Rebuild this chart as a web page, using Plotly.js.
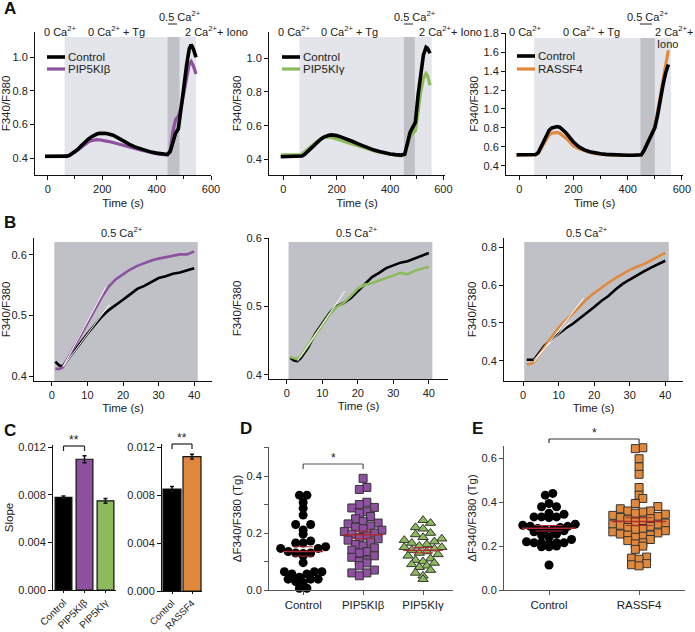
<!DOCTYPE html>
<html>
<head>
<meta charset="utf-8">
<script src="https://cdn.plot.ly/plotly-3.0.1.min.js"></script>
<style>html,body{margin:0;padding:0;background:#fff}#chart{width:695px;height:632px}</style>
</head>
<body>
<div id="chart"></div>
<script>
const W = 695, H = 632;
const FONT = '"Liberation Sans", Arial, sans-serif';

// ---- A: F340/F380 traces ----
const tA1 = [-10,0,20,40,60,70,80,90,100,110,120,130,140,150,160,170,180,190,200,210,220,240,260,280,300,320,340,360,380,400,420,440,450,460,470,480,490,500,510,520,527,535,545];
const ctrlA1 = [0.412,0.412,0.412,0.412,0.412,0.413,0.418,0.428,0.44,0.453,0.47,0.487,0.502,0.515,0.527,0.537,0.544,0.548,0.55,0.549,0.546,0.537,0.52,0.5,0.483,0.468,0.456,0.446,0.437,0.431,0.426,0.423,0.44,0.5,0.55,0.575,0.68,0.82,0.95,1.05,1.075,1.05,1.0];
const pipbA1 = [0.41,0.41,0.41,0.41,0.41,0.412,0.418,0.426,0.436,0.448,0.462,0.476,0.488,0.498,0.505,0.509,0.511,0.51,0.508,0.505,0.501,0.494,0.486,0.477,0.467,0.458,0.449,0.441,0.434,0.428,0.423,0.42,0.45,0.56,0.63,0.65,0.7,0.78,0.88,0.96,0.975,0.95,0.9];

const tA2 = [-10,0,20,40,60,70,80,90,100,110,120,130,140,150,160,170,180,190,200,210,220,240,260,280,300,320,340,360,380,400,420,440,455,465,475,485,495,505,515,525,535,540,550];
const ctrlA2 = [0.415,0.415,0.415,0.415,0.415,0.42,0.43,0.445,0.462,0.478,0.494,0.508,0.52,0.53,0.538,0.543,0.545,0.544,0.541,0.536,0.531,0.52,0.506,0.492,0.478,0.466,0.455,0.446,0.438,0.432,0.428,0.425,0.43,0.5,0.56,0.59,0.62,0.78,0.92,1.02,1.065,1.06,1.03];
const pipgA2 = [0.426,0.426,0.426,0.426,0.426,0.432,0.444,0.458,0.472,0.486,0.499,0.51,0.52,0.528,0.533,0.533,0.53,0.526,0.521,0.516,0.51,0.499,0.488,0.477,0.467,0.458,0.45,0.443,0.436,0.43,0.425,0.421,0.425,0.48,0.53,0.555,0.57,0.68,0.8,0.88,0.91,0.9,0.84];

const tA3 = [-10,0,20,40,55,60,70,80,90,100,110,120,130,140,150,160,170,180,190,200,220,240,260,280,300,320,340,360,380,400,420,440,450,460,470,480,490,500,510,520,530,540,550];
const ctrlA3 = [0.516,0.516,0.515,0.514,0.514,0.518,0.54,0.6,0.67,0.73,0.775,0.8,0.812,0.814,0.805,0.785,0.755,0.72,0.685,0.65,0.6,0.568,0.548,0.535,0.526,0.52,0.516,0.514,0.512,0.511,0.51,0.51,0.515,0.56,0.62,0.68,0.74,0.8,0.93,1.1,1.25,1.38,1.47];
const rassfA3 = [0.512,0.512,0.512,0.511,0.511,0.514,0.532,0.58,0.64,0.69,0.725,0.745,0.752,0.752,0.742,0.722,0.697,0.67,0.645,0.61,0.58,0.556,0.54,0.528,0.52,0.514,0.511,0.509,0.508,0.507,0.506,0.506,0.512,0.56,0.63,0.69,0.75,0.81,0.95,1.13,1.3,1.48,1.62];

// ---- B: 0.5 Ca2+ re-addition ----
const tB = [1,2,3,4,6,8,10,12,14,16,18,20,22,24,26,28,30,32,34,36,38,40];
const ctrlB1 = [0.424,0.418,0.416,0.424,0.44,0.455,0.47,0.484,0.498,0.509,0.517,0.526,0.535,0.544,0.549,0.556,0.562,0.565,0.569,0.571,0.574,0.578];
const pipbB1 = [0.412,0.412,0.414,0.424,0.445,0.466,0.487,0.508,0.53,0.548,0.56,0.568,0.576,0.582,0.587,0.591,0.594,0.596,0.598,0.601,0.601,0.606];
const ctrlB2 = [0.425,0.421,0.42,0.425,0.44,0.46,0.475,0.49,0.5,0.505,0.512,0.522,0.532,0.543,0.549,0.556,0.56,0.564,0.566,0.57,0.574,0.578];
const pipgB2 = [0.426,0.424,0.423,0.428,0.444,0.458,0.473,0.488,0.499,0.505,0.515,0.526,0.532,0.534,0.538,0.541,0.545,0.549,0.547,0.552,0.555,0.558];
const ctrlB3 = [0.403,0.403,0.403,0.415,0.44,0.457,0.472,0.486,0.498,0.512,0.526,0.542,0.558,0.571,0.588,0.603,0.614,0.626,0.636,0.646,0.654,0.664];
const rassfB3 = [0.391,0.392,0.396,0.41,0.437,0.463,0.488,0.508,0.525,0.545,0.564,0.579,0.593,0.606,0.618,0.63,0.64,0.648,0.655,0.665,0.675,0.685];
// linear fits (start/end)
const fitB1CtrlT = [3.2, 16.2], fitB1CtrlV = [0.416, 0.518];
const fitB1PipbT = [3.2, 15.3], fitB1PipbV = [0.416, 0.548];
const fitB2CtrlT = [3, 16.3], fitB2CtrlV = [0.42, 0.522];
const fitB3CtrlT = [3, 13.2], fitB3CtrlV = [0.403, 0.503];
const fitB3RassfT = [3, 17], fitB3RassfV = [0.396, 0.565];
const b3TickVals = [0.4, 0.5, 0.6, 0.7];
const b3TickText = ['0.4', '0.5', '0.6', '0.8'];

// ---- C: slopes ----
const cLabels1 = ['Control', 'PIP5KI\u03b2', 'PIP5KI\u03b3'];
const slope1 = [0.0078, 0.0110, 0.0075];
const slopeErr1 = [0.0001, 0.0003, 0.0002];
const cLabels2 = ['Control', 'RASSF4'];
const slope2 = [0.0085, 0.0112];
const slopeErr2 = [0.0002, 0.0002];

// ---- D, E: delta F340/F380 (Tg) ----
const dLabels = ['Control', 'PIP5KI\u03b2', 'PIP5KI\u03b3'];
const dCtrl = [0.333,0.333,0.307,0.287,0.263,0.23,0.23,0.211,0.196,0.172,0.165,0.165,0.152,0.146,0.146,0.135,0.13,0.13,0.128,0.12,0.096,0.064,0.064,0.064,0.056,0.056,0.045,0.038,0.038,0.038,0.03,0.026,0.006,0.006];
const dPipb = [0.392,0.36,0.353,0.308,0.3,0.29,0.288,0.275,0.27,0.258,0.25,0.24,0.235,0.232,0.225,0.22,0.215,0.21,0.205,0.2,0.196,0.19,0.185,0.18,0.175,0.168,0.16,0.155,0.148,0.14,0.135,0.13,0.12,0.115,0.105,0.1,0.095,0.085,0.07,0.06,0.06,0.05];
const dPipg = [0.245,0.235,0.22,0.215,0.2,0.195,0.185,0.18,0.175,0.17,0.165,0.16,0.155,0.15,0.15,0.145,0.14,0.135,0.13,0.125,0.12,0.11,0.105,0.1,0.095,0.09,0.085,0.08,0.07,0.06,0.05,0.038];
const eLabels = ['Control', 'RASSF4'];
const eCtrl = [0.44,0.432,0.394,0.379,0.379,0.35,0.345,0.333,0.333,0.333,0.33,0.3,0.295,0.29,0.29,0.285,0.28,0.275,0.275,0.27,0.265,0.255,0.25,0.24,0.23,0.22,0.215,0.215,0.215,0.215,0.21,0.2,0.197,0.197,0.114];
const eRassf = [0.648,0.644,0.598,0.561,0.527,0.467,0.432,0.417,0.394,0.38,0.37,0.36,0.36,0.355,0.35,0.345,0.34,0.335,0.33,0.325,0.32,0.315,0.31,0.305,0.3,0.3,0.295,0.29,0.285,0.28,0.275,0.27,0.265,0.26,0.255,0.25,0.25,0.245,0.24,0.23,0.225,0.215,0.21,0.2,0.185,0.15,0.145,0.14,0.12,0.115,0.11];

const PURPLE = '#8e51a0', GREEN = '#8cbb5c', ORANGE = '#e0893c', RED = '#b3282d';
const LIGHT = '#e3e5ea', DARK = '#bfc1c7';

// panel geometry in pixels + axis ranges
const G = {
  A1: {l:35, r:211, t:32, b:175, x:[-47,600], y:[0.301,1.15]},
  A2: {l:269, r:445, t:32, b:175, x:[-54,606], y:[0.307,1.156]},
  A3: {l:506, r:683, t:33, b:175, x:[-49,604], y:[0.302,1.803]},
  B1: {l:34, r:212, t:238, b:381, x:[-5,45], y:[0.392,0.628]},
  B2: {l:269, r:448, t:238, b:379, x:[-5,45.4], y:[0.394,0.6]},
  B3: {l:504, r:683, t:238, b:381, x:[-5.4,45], y:[0.347,0.724]},
  C1: {l:53, r:116, t:445, b:590, x:[-0.5,2.5], y:[0,0.0122]},
  C2: {l:162, r:202, t:444, b:591, x:[-0.5,1.5], y:[0,0.01225]},
  D:  {l:269, r:453, t:447, b:590, x:[-0.57,2.5], y:[0,0.502]},
  E:  {l:504, r:685, t:446, b:590, x:[-0.5,1.51], y:[0,0.656]}
};
const order = ['A1','A2','A3','B1','B2','B3','C1','C2','D','E'];
const sfx = {};
order.forEach((k, i) => sfx[k] = i ? String(i + 1) : '');

const baseAxis = {
  showline: true, linecolor: '#111', linewidth: 1, ticks: 'outside', ticklen: 4,
  tickcolor: '#111', tickwidth: 1, showgrid: false, zeroline: false, fixedrange: true,
  tickfont: {size: 11, color: '#222'}
};

const layout = {
  width: W, height: H, margin: {l:0, r:0, t:0, b:0},
  paper_bgcolor: '#fff', plot_bgcolor: 'rgba(0,0,0,0)',
  showlegend: false, hovermode: false,
  font: {family: FONT, size: 11, color: '#222'},
  shapes: [], annotations: []
};
order.forEach(k => {
  const g = G[k], s = sfx[k];
  layout['xaxis' + s] = Object.assign({}, baseAxis, {domain:[g.l/W, g.r/W], range:g.x, anchor:'y' + s});
  layout['yaxis' + s] = Object.assign({}, baseAxis, {domain:[1 - g.b/H, 1 - g.t/H], range:g.y, anchor:'x' + s});
});
function xa(k) { return layout['xaxis' + sfx[k]]; }
function ya(k) { return layout['yaxis' + sfx[k]]; }
function pxX(k, v) { const g = G[k]; return g.l + (v - g.x[0]) / (g.x[1] - g.x[0]) * (g.r - g.l); }

function txt(px, py, text, o) {
  layout.annotations.push(Object.assign({xref:'paper', yref:'paper', x:px/W, y:1 - py/H, text:text,
    showarrow:false, xanchor:'center', yanchor:'middle', font:{size:11, color:'#222'}}, o || {}));
}
function seg(x0, y0, x1, y1, color, width) {
  layout.shapes.push({type:'line', xref:'paper', yref:'paper', x0:x0/W, y0:1 - y0/H, x1:x1/W, y1:1 - y1/H,
    line:{color:color, width:width}});
}
function band(k, x0, x1, top, color) {
  const s = sfx[k];
  layout.shapes.push({type:'rect', xref:'x' + s, yref:'y' + s + ' domain', x0:x0, x1:x1, y0:0, y1:top,
    fillcolor:color, line:{width:0}, layer:'below'});
}
function bracket(k, c0, c1, yPx, drop, label, color) {
  const x0 = pxX(k, c0), x1 = pxX(k, c1);
  seg(x0, yPx, x1, yPx, color, 1.2);
  seg(x0, yPx, x0, yPx + drop, color, 1.2);
  seg(x1, yPx, x1, yPx + drop, color, 1.2);
  txt((x0 + x1) / 2, yPx - 6, label, {font:{size:12, color:'#222'}});
}

const traces = [];
function line(k, x, y, color, width) {
  const s = sfx[k];
  traces.push({type:'scatter', mode:'lines', x:x, y:y, xaxis:'x' + s, yaxis:'y' + s,
    line:{color:color, width:width}, cliponaxis:true});
}

// ---- A panels ----
const aSets = [
  {k:'A1', t:tA1, c:ctrlA1, o:pipbA1, col:PURPLE, light:[62,545], dark:[440,484]},
  {k:'A2', t:tA2, c:ctrlA2, o:pipgA2, col:GREEN, light:[60,556], dark:[452,493]},
  {k:'A3', t:tA3, c:ctrlA3, o:rassfA3, col:ORANGE, light:[55,560], dark:[447,500]}
];
aSets.forEach(a => {
  band(a.k, a.light[0], a.light[1], 0.965, LIGHT);
  band(a.k, a.dark[0], a.dark[1], 0.965, DARK);
  line(a.k, a.t, a.o, a.col, 3.2);
  line(a.k, a.t, a.c, '#000', 3.6);
  Object.assign(xa(a.k), {tickvals:[0,200,400,600], minor:{dtick:100, tick0:0, ticks:'outside', ticklen:3, tickcolor:'#111'},
    title:{text:'Time (s)', font:{size:11.5}, standoff:4}});
  Object.assign(ya(a.k), {tickformat:'.1f', title:{text:'F340/F380', font:{size:11.5}, standoff:2}});
});
ya('A1').tickvals = [0.4, 0.6, 0.8, 1.0];
ya('A2').tickvals = [0.4, 0.6, 0.8, 1.0];
ya('A3').tickvals = [0.4, 0.6, 0.8, 1.0, 1.2, 1.4, 1.6, 1.8];

// legends (drawn by hand to keep the tight spacing)
function legendRow(x, y, color, w, label) {
  seg(x, y, x + 18, y, color, w);
  txt(x + 19, y, label, {xanchor:'left', font:{size:11.5, color:'#222'}});
}
legendRow(47, 57, '#000', 3.6, 'Control');   legendRow(47, 69, PURPLE, 3.2, 'PIP5KI\u03b2');
legendRow(282, 57, '#000', 3.6, 'Control');  legendRow(282, 69, GREEN, 3.2, 'PIP5KI\u03b3');
legendRow(517, 56, '#000', 3.6, 'Control');  legendRow(517, 69, ORANGE, 3.2, 'RASSF4');

// condition labels on top of A
const ca = 'Ca<sup>2+</sup>';
[[60,116,180,168,177,183],[294,349,415,404,413,417],[525,591,648,640,652,653]].forEach((p, i) => {
  txt(p[0], 31, '0 ' + ca);
  txt(p[1], 31, '0 ' + ca + ' + Tg');
  txt(p[2], 16, '0.5 ' + ca);
  seg(p[3], 24, p[4], 24, '#222', 1);
  txt(p[5], 31, i < 2 ? '2 ' + ca + '+ Iono' : '2 ' + ca + '+', {xanchor:'left'});
});
txt(655, 44, 'Iono', {xanchor:'left'});

// ---- B panels ----
const bSets = [
  {k:'B1', c:ctrlB1, o:pipbB1, col:PURPLE, box:[0.7,41], fits:[[fitB1CtrlT,fitB1CtrlV],[fitB1PipbT,fitB1PipbV]], lab:122},
  {k:'B2', c:ctrlB2, o:pipgB2, col:GREEN, box:[0.5,41], fits:[[fitB2CtrlT,fitB2CtrlV]], lab:357},
  {k:'B3', c:ctrlB3, o:rassfB3, col:ORANGE, box:[0.3,41], fits:[[fitB3CtrlT,fitB3CtrlV],[fitB3RassfT,fitB3RassfV]], lab:587}
];
bSets.forEach(b => {
  band(b.k, b.box[0], b.box[1], 0.972, DARK);
  line(b.k, tB, b.c, '#000', 2.6);
  line(b.k, tB, b.o, b.col, 2.6);
  b.fits.forEach(f => line(b.k, f[0], f[1], '#ffffff', 1));
  Object.assign(xa(b.k), {tickvals:[0,10,20,30,40], title:{text:'Time (s)', font:{size:11.5}, standoff:3}});
  Object.assign(ya(b.k), {tickformat:'.1f', title:{text:'F340/F380', font:{size:11.5}, standoff:2}});
  txt(b.lab, 232, '0.5 ' + ca);
});
ya('B1').tickvals = [0.4, 0.5, 0.6];
ya('B2').tickvals = [0.4, 0.5, 0.6];
Object.assign(ya('B3'), {tickvals:b3TickVals, ticktext:b3TickText});

// ---- C panels ----
[['C1', cLabels1, slope1, slopeErr1, ['#000', PURPLE, GREEN], 0.8, 10],
 ['C2', cLabels2, slope2, slopeErr2, ['#000', ORANGE], 0.9, 9.5]].forEach(c => {
  const s = sfx[c[0]];
  traces.push({type:'bar', x:c[1].map((_, i) => i), y:c[2], width:c[5], xaxis:'x' + s, yaxis:'y' + s,
    marker:{color:c[4], line:{color:'#111', width:1.2}},
    error_y:{type:'data', array:c[3], visible:true, color:'#111', thickness:1.5, width:2}});
  Object.assign(xa(c[0]), {tickvals:c[1].map((_, i) => i), ticktext:c[1], tickangle:-45, ticklen:2,
    tickfont:{size:c[6], color:'#222'}});
  Object.assign(ya(c[0]), {tickvals:[0, 0.004, 0.008, 0.012], tickformat:'.3f'});
});
ya('C1').title = {text:'Slope', font:{size:11.5}, standoff:2};
bracket('C1', 0, 1, 446, 5, '**', '#222');
bracket('C2', 0, 1, 444, 5, '**', '#222');

// ---- D, E scatter: points binned into rows and spread side by side ----
function rowSpread(vals, rowH, step, pyu, pxc) {
  const rows = {};
  vals.forEach((v, i) => {
    const r = Math.round(v * pyu / rowH);
    (rows[r] = rows[r] || []).push(i);
  });
  const off = new Array(vals.length);
  Object.values(rows).forEach(ids => {
    ids.sort((a, b) => vals[a] - vals[b]);
    const n = ids.length;
    // alternate left/right around the centre
    const slots = [];
    for (let j = 0; j < n; j++) slots.push(j - (n - 1) / 2);
    slots.sort((a, b) => Math.abs(a) - Math.abs(b) || a - b);
    ids.forEach((id, j) => off[id] = slots[j] * step / pxc);
  });
  return off;
}
function dots(k, cat, vals, marker, rowH, step, half) {
  const g = G[k], s = sfx[k];
  const pyu = (g.b - g.t) / (g.y[1] - g.y[0]);
  const pxc = (g.r - g.l) / (g.x[1] - g.x[0]);
  const off = rowSpread(vals, rowH, step, pyu, pxc);
  traces.push({type:'scatter', mode:'markers', x:off.map(o => cat + o), y:vals, xaxis:'x' + s, yaxis:'y' + s,
    marker:marker, cliponaxis:false});
  const n = vals.length, m = vals.reduce((a, b) => a + b, 0) / n;
  const sd = Math.sqrt(vals.reduce((a, b) => a + (b - m) ** 2, 0) / (n - 1)), se = sd / Math.sqrt(n);
  line(k, [cat - half, cat + half], [m, m], RED, 1.5);
  line(k, [cat - half / 2, cat + half / 2], [m + se, m + se], RED, 1);
  line(k, [cat - half / 2, cat + half / 2], [m - se, m - se], RED, 1);
}
const edge = {color:'#333', width:1};
dots('D', 0, dCtrl, {color:'#000', size:9, symbol:'circle'}, 8, 7.5, 0.33);
dots('D', 1, dPipb, {color:PURPLE, size:8, symbol:'square', line:edge}, 8, 7.5, 0.33);
dots('D', 2, dPipg, {color:GREEN, size:9, symbol:'triangle-up', line:edge}, 8, 7.5, 0.33);
dots('E', 0, eCtrl, {color:'#000', size:9, symbol:'circle'}, 8, 7.5, 0.3);
dots('E', 1, eRassf, {color:ORANGE, size:8, symbol:'square', line:edge}, 8, 7.5, 0.3);

const grayAxis = {linecolor:'#555', tickcolor:'#555'};
Object.assign(xa('D'), grayAxis, {tickvals:[0,1,2], ticktext:dLabels, ticklen:4, tickfont:{size:11.5, color:'#222'}});
Object.assign(ya('D'), grayAxis, {tickvals:[0,0.2,0.4], tickformat:'.1f', minor:{dtick:0.1, ticks:'outside', ticklen:4, tickcolor:'#555'},
  title:{text:'\u0394F340/F380 (Tg)', font:{size:11.5}, standoff:2}});
Object.assign(xa('E'), grayAxis, {tickvals:[0,1], ticktext:eLabels, ticklen:4, tickfont:{size:11.5, color:'#222'}});
Object.assign(ya('E'), grayAxis, {tickvals:[0,0.2,0.4,0.6], tickformat:'.1f',
  title:{text:'\u0394F340/F380 (Tg)', font:{size:11.5}, standoff:2}});
bracket('D', 0, 1, 464, 5, '*', '#555');
bracket('E', 0, 1, 439, 4, '*', '#333');

// panel letters
[['A',2,9],['B',2,222],['C',2,430],['D',238,429],['E',470,429]].forEach(p =>
  txt(p[1], p[2], '<b>' + p[0] + '</b>', {xanchor:'left', font:{size:17, color:'#111'}}));

Plotly.newPlot('chart', traces, layout, {displayModeBar:false, staticPlot:true});
</script>
</body>
</html>
